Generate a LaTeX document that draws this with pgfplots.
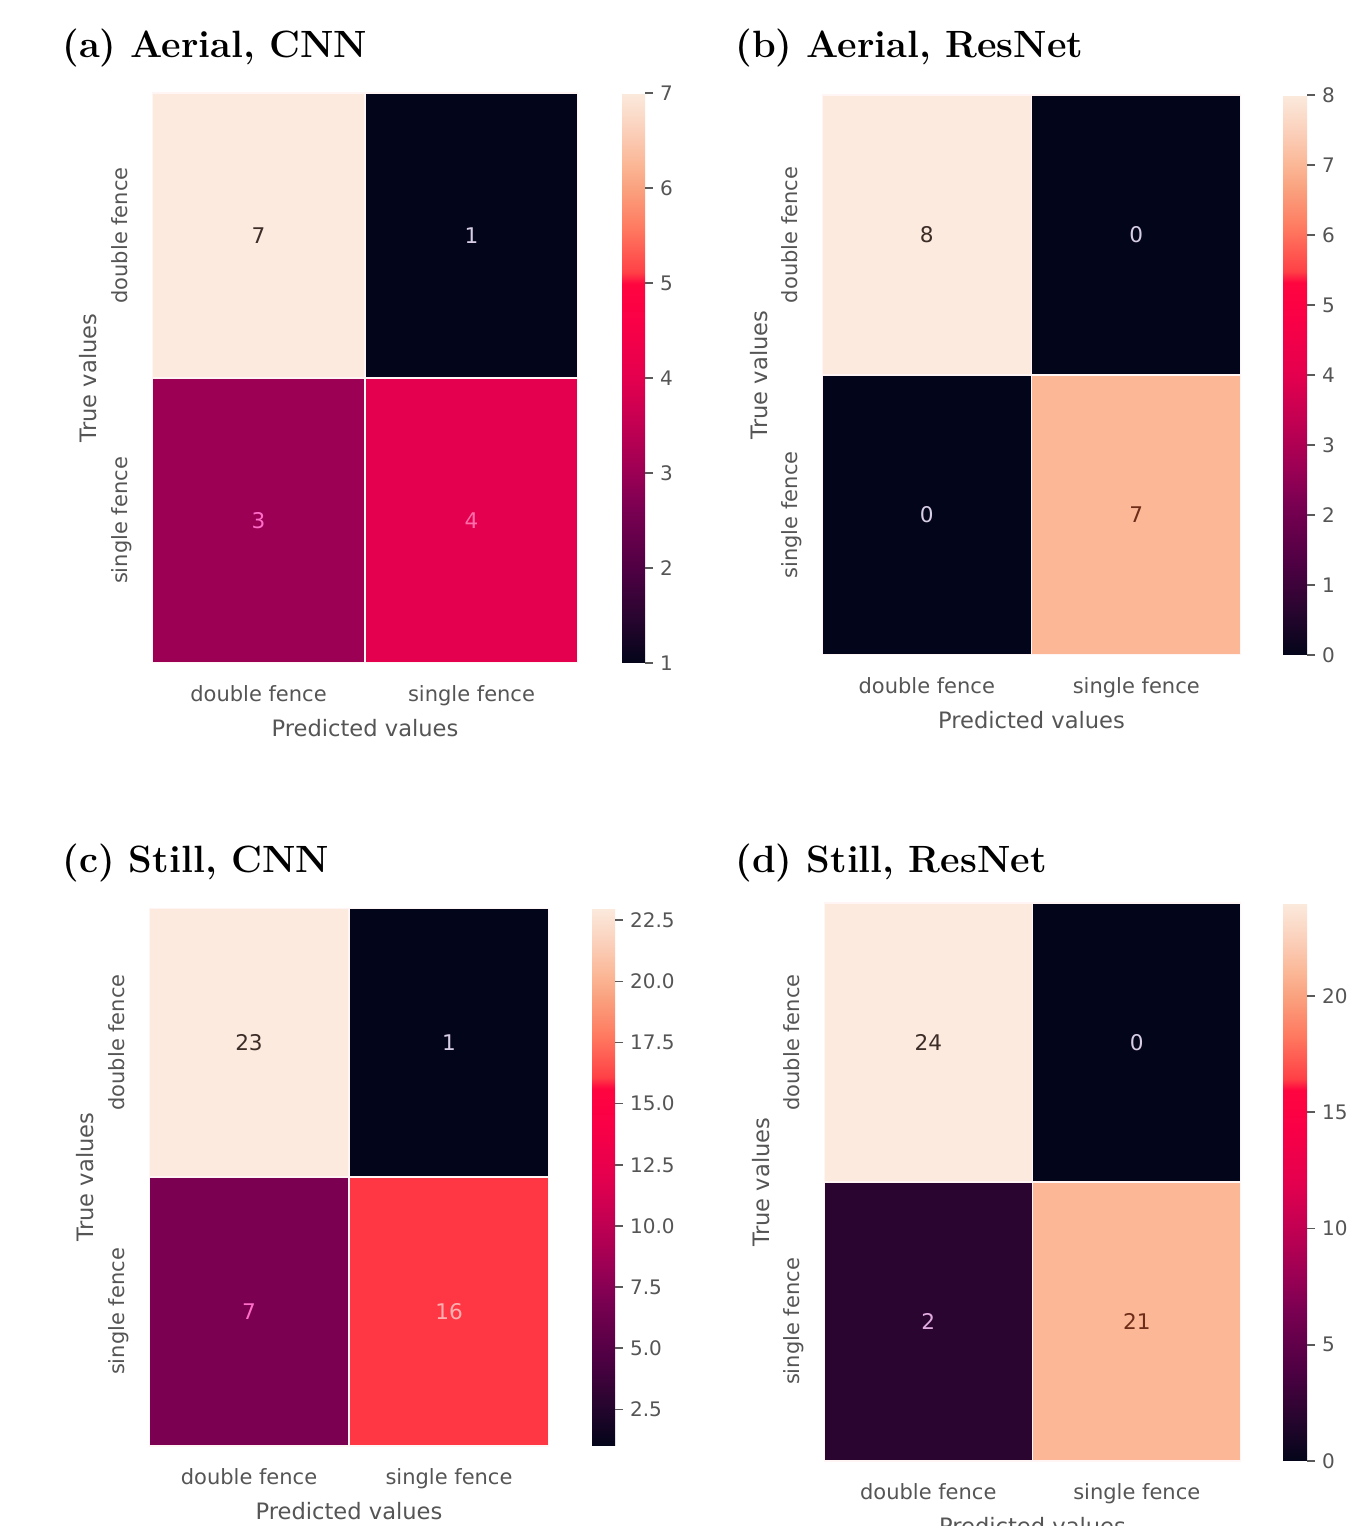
\documentclass[border=0pt]{standalone}
\usepackage{fontspec}
\setsansfont{DejaVu Sans}
\usepackage{pgfplots}
\pgfplotsset{compat=1.18}
\usepgfplotslibrary{patchplots}
\definecolor{tickgray}{RGB}{85,85,85}
\definecolor{cbtick}{RGB}{90,90,90}
\definecolor{onlight}{RGB}{60,45,40}
\definecolor{ondark}{RGB}{215,205,228}
\definecolor{onmag}{RGB}{255,110,200}
\definecolor{onred}{RGB}{255,110,170}
\definecolor{oncoral}{RGB}{255,175,175}
\definecolor{onpurple}{RGB}{225,170,225}
\definecolor{onsalmon}{RGB}{110,45,25}
\tikzset{ttl/.style={anchor=base west, font=\fontsize{19}{22}\selectfont\bfseries, inner sep=0pt}}
\pgfplotsset{
  colormap={rocketx}{[1pt]
    rgb255(0pt)=(3,5,26)
    rgb255(83pt)=(42,5,48)
    rgb255(167pt)=(80,0,68)
    rgb255(270pt)=(122,0,82)
    rgb255(333pt)=(155,0,84)
    rgb255(420pt)=(195,0,82)
    rgb255(500pt)=(228,0,78)
    rgb255(600pt)=(250,0,70)
    rgb255(665pt)=(255,5,64)
    rgb255(685pt)=(255,64,70)
    rgb255(760pt)=(255,120,95)
    rgb255(830pt)=(250,160,125)
    rgb255(875pt)=(251,183,150)
    rgb255(940pt)=(251,210,190)
    rgb255(1000pt)=(251,234,221)
  },
  cm/.style={
    colormap name=rocketx,
    scale only axis,
    anchor=south west,
    xmin=-0.5, xmax=1.5, ymin=-0.5, ymax=1.5,
    axis line style={draw=none},
    major tick length=0pt,
    xtick={0,1}, ytick={0,1},
    xticklabels={double fence,single fence},
    yticklabels={single fence,double fence},
    ticklabel style={font=\sffamily\fontsize{10.5}{12}\selectfont, text=tickgray},
    yticklabel style={rotate=90, anchor=base},
    yticklabel shift=12.5pt,
    xticklabel shift=7.5pt,
    xlabel={Predicted values}, ylabel={True values},
    label style={font=\sffamily\fontsize{11.3}{13}\selectfont, text=tickgray},
    colorbar,
    colorbar style={
      at={(parent axis.north east)}, anchor=north west,
      axis line style={draw=none},
      xtick=\empty, xlabel={}, ylabel={},
      tick align=outside, major tick length=4pt,
      ytick pos=right, yticklabel pos=right,
      tick style={draw=cbtick, line width=0.8pt},
      yticklabel shift=0pt,
      yticklabel style={rotate=0, anchor=west, font=\sffamily\fontsize{10}{12}\selectfont, text=tickgray},
      /pgf/number format/assume math mode=true,
    },
  },
  ann/.style={only marks, mark=*, mark size=0pt, mark options={draw=none, fill=none},
    point meta=explicit symbolic, nodes near coords, nodes near coords align=center,
    every node near coord/.append style={font=\sffamily\fontsize{10.8}{12}\selectfont, text=#1, anchor=center}},
  cells/.style={patch, patch type=rectangle, shader=faceted, point meta=explicit,
    faceted color=white!85!pink, line width=0.6pt},
}
\begin{document}
\begin{tikzpicture}
\useasboundingbox (0pt,0pt) rectangle (674pt,763pt);

% (a)
\node[ttl] at (31pt,734pt) {(a) Aerial, CNN};
\begin{axis}[cm, at={(76pt,431.5pt)}, width=213pt, height=285pt,
  point meta min=1, point meta max=7,
  colorbar style={xshift=13.5pt, width=11.5pt, ytick={1,2,3,4,5,6,7}}]
\addplot[cells] coordinates {
  (-0.5,0.5)[7] (0.5,0.5)[7] (0.5,1.5)[7] (-0.5,1.5)[7]
  (0.5,0.5)[1] (1.5,0.5)[1] (1.5,1.5)[1] (0.5,1.5)[1]
  (-0.5,-0.5)[3] (0.5,-0.5)[3] (0.5,0.5)[3] (-0.5,0.5)[3]
  (0.5,-0.5)[4] (1.5,-0.5)[4] (1.5,0.5)[4] (0.5,0.5)[4]
};
\addplot[ann=onlight] coordinates {(0,1)[7]};
\addplot[ann=ondark] coordinates {(1,1)[1]};
\addplot[ann=onmag] coordinates {(0,0)[3]};
\addplot[ann=onred] coordinates {(1,0)[4]};
\end{axis}

% (b)
\node[ttl] at (367.5pt,734pt) {(b) Aerial, ResNet};
\begin{axis}[cm, at={(411pt,435.5pt)}, width=209.5pt, height=280pt,
  point meta min=0, point meta max=8,
  colorbar style={xshift=12.5pt, width=12pt, ytick={0,1,2,3,4,5,6,7,8}}]
\addplot[cells] coordinates {
  (-0.5,0.5)[8] (0.5,0.5)[8] (0.5,1.5)[8] (-0.5,1.5)[8]
  (0.5,0.5)[0] (1.5,0.5)[0] (1.5,1.5)[0] (0.5,1.5)[0]
  (-0.5,-0.5)[0] (0.5,-0.5)[0] (0.5,0.5)[0] (-0.5,0.5)[0]
  (0.5,-0.5)[7] (1.5,-0.5)[7] (1.5,0.5)[7] (0.5,0.5)[7]
};
\addplot[ann=onlight] coordinates {(0,1)[8]};
\addplot[ann=ondark] coordinates {(1,1)[0]};
\addplot[ann=ondark] coordinates {(0,0)[0]};
\addplot[ann=onsalmon] coordinates {(1,0)[7]};
\end{axis}

% (c)
\node[ttl] at (31pt,326.5pt) {(c) Still, CNN};
\begin{axis}[cm, at={(74.5pt,40pt)}, width=200pt, height=269pt,
  point meta min=1, point meta max=23,
  colorbar style={xshift=13pt, width=11.5pt, ytick={2.5,5,7.5,10,12.5,15,17.5,20,22.5},
    yticklabel style={/pgf/number format/.cd, fixed, fixed zerofill, precision=1}}]
\addplot[cells] coordinates {
  (-0.5,0.5)[23] (0.5,0.5)[23] (0.5,1.5)[23] (-0.5,1.5)[23]
  (0.5,0.5)[1] (1.5,0.5)[1] (1.5,1.5)[1] (0.5,1.5)[1]
  (-0.5,-0.5)[7] (0.5,-0.5)[7] (0.5,0.5)[7] (-0.5,0.5)[7]
  (0.5,-0.5)[16] (1.5,-0.5)[16] (1.5,0.5)[16] (0.5,0.5)[16]
};
\addplot[ann=onlight] coordinates {(0,1)[23]};
\addplot[ann=ondark] coordinates {(1,1)[1]};
\addplot[ann=onmag] coordinates {(0,0)[7]};
\addplot[ann=oncoral] coordinates {(1,0)[16]};
\end{axis}

% (d)
\node[ttl] at (367.5pt,326.5pt) {(d) Still, ResNet};
\begin{axis}[cm, at={(412pt,32.5pt)}, width=208.5pt, height=279pt,
  point meta min=0, point meta max=24,
  colorbar style={xshift=12.5pt, width=12pt, ytick={0,5,10,15,20}}]
\addplot[cells] coordinates {
  (-0.5,0.5)[24] (0.5,0.5)[24] (0.5,1.5)[24] (-0.5,1.5)[24]
  (0.5,0.5)[0] (1.5,0.5)[0] (1.5,1.5)[0] (0.5,1.5)[0]
  (-0.5,-0.5)[2] (0.5,-0.5)[2] (0.5,0.5)[2] (-0.5,0.5)[2]
  (0.5,-0.5)[21] (1.5,-0.5)[21] (1.5,0.5)[21] (0.5,0.5)[21]
};
\addplot[ann=onlight] coordinates {(0,1)[24]};
\addplot[ann=ondark] coordinates {(1,1)[0]};
\addplot[ann=onpurple] coordinates {(0,0)[2]};
\addplot[ann=onsalmon] coordinates {(1,0)[21]};
\end{axis}
\end{tikzpicture}
\end{document}
